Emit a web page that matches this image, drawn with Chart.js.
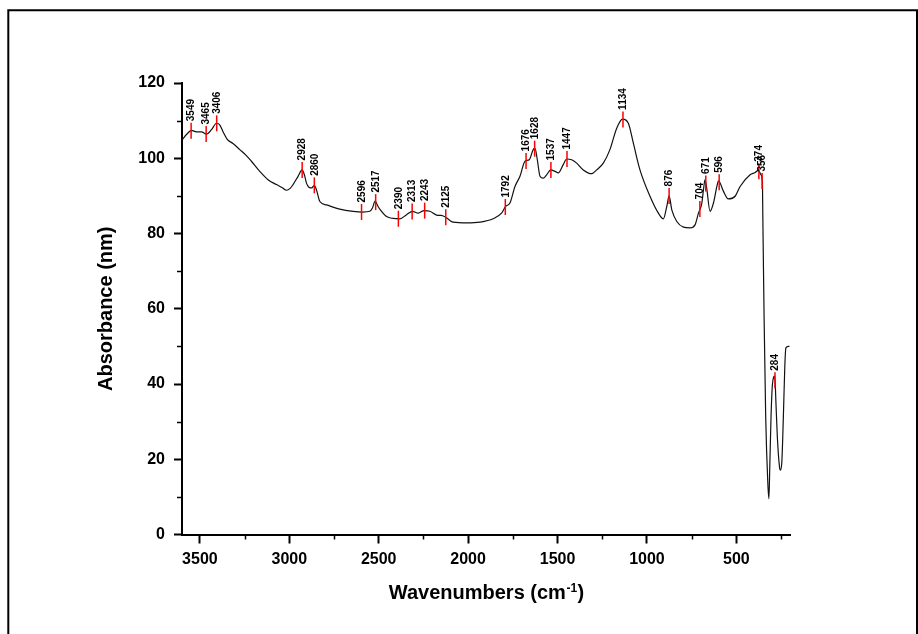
<!DOCTYPE html>
<html><head><meta charset="utf-8">
<script src="https://cdn.jsdelivr.net/npm/chart.js@4.4.0/dist/chart.umd.min.js"></script>
<style>html,body{margin:0;padding:0;background:#fff}</style>
</head><body>
<canvas id="c" width="918" height="634"></canvas>
<script>
const wavenumbers = [3598,3575,3547,3519,3491,3463,3435,3407,3389,3370,3348,3315,3277,3240,3212,3165,3119,3072,3040,3016,2995,2979,2951,2928,2915,2904,2890,2875,2860,2848,2829,2792,2718,2643,2590,2550,2535,2520,2505,2494,2456,2419,2382,2344,2311,2279,2246,2214,2176,2150,2125,2100,2083,2008,1934,1860,1813,1790,1766,1738,1710,1682,1658,1636,1626,1613,1598,1580,1561,1538,1514,1496,1468,1449,1421,1393,1356,1309,1281,1244,1207,1169,1136,1104,1076,1039,983,936,908,889,876,861,833,796,759,731,712,693,684,675,666,647,628,609,600,572,545,507,479,423,395,377,362,354,352,345,336,324,318,313,306,298,285,279,271,259,254,246,237,229,223,209,203];
const absorbance = [105.0,106.3,107.4,107.0,107.0,106.4,107.6,109.3,108.9,107.0,105.1,103.9,102.3,100.7,99.2,96.5,94.3,93.0,92.2,91.5,92.0,93.0,95.2,96.9,95.5,93.4,92.3,92.1,92.8,91.6,88.5,87.6,86.5,85.9,85.7,85.9,86.8,88.6,87.3,86.5,84.5,84.0,83.9,85.0,85.9,85.4,86.1,85.9,84.9,84.8,84.3,83.4,83.0,82.8,83.0,83.9,85.4,87.2,88.1,92.5,95.2,99.2,99.6,102.3,102.6,99.6,95.2,94.7,95.6,96.9,96.5,96.1,98.3,99.8,99.6,98.7,96.9,95.9,96.9,98.7,102.3,108.0,110.4,109.3,104.0,96.9,89.9,85.4,83.9,87.2,90.0,86.3,83.2,81.7,81.5,82.3,85.4,88.1,91.6,94.3,92.1,85.9,88.1,92.5,94.0,91.2,89.2,89.9,92.5,95.6,96.2,96.8,95.6,93.4,84.5,58.0,31.4,13.7,9.5,18.1,31.4,40.0,42.1,35.5,26.1,18.1,17.1,19.0,31.4,44.7,49.6,50.0,50.0];
const xTicks = [3500,3000,2500,2000,1500,1000,500];
const xMinorTicks = [3250,2750,2250,1750,1250,750,250];
const yTicks = [0,20,40,60,80,100,120];
const yMinorTicks = [10,30,50,70,90,110];
const peakLabels = [3549,3465,3406,2928,2860,2596,2517,2390,2313,2243,2125,1792,1676,1628,1537,1447,1134,876,704,671,596,374,356,284];

const FONT = '"Liberation Sans", Arial, Helvetica, sans-serif';

function curveAt(v){
  for (let i=0;i<wavenumbers.length-1;i++){
    const a=wavenumbers[i], b=wavenumbers[i+1];
    if ((v<=a && v>=b)){
      const t=(a===b)?0:(a-v)/(a-b);
      return absorbance[i]+(absorbance[i+1]-absorbance[i])*t;
    }
  }
  return absorbance[absorbance.length-1];
}

const extras = {
  id:'extras',
  afterDraw(chart){
    const ctx=chart.ctx, xs=chart.scales.x, ys=chart.scales.y, ca=chart.chartArea;
    ctx.save();
    ctx.strokeStyle='#000'; ctx.lineWidth=1.5;
    xMinorTicks.forEach(v=>{const p=Math.round(xs.getPixelForValue(v))+0.5;ctx.beginPath();ctx.moveTo(p,ca.bottom);ctx.lineTo(p,ca.bottom+5);ctx.stroke();});
    yMinorTicks.forEach(v=>{const p=Math.round(ys.getPixelForValue(v))+0.5;ctx.beginPath();ctx.moveTo(ca.left,p);ctx.lineTo(ca.left-5,p);ctx.stroke();});
    peakLabels.forEach(v=>{
      const px=xs.getPixelForValue(v), py=ys.getPixelForValue(curveAt(v));
      ctx.strokeStyle='#ff0000'; ctx.lineWidth=1.5;
      ctx.beginPath(); ctx.moveTo(px,py-8); ctx.lineTo(px,py+8); ctx.stroke();
      ctx.save();
      ctx.translate(px,py-9.5); ctx.rotate(-Math.PI/2);
      ctx.fillStyle='#000'; ctx.font='bold 10px '+FONT;
      ctx.textAlign='left'; ctx.textBaseline='middle';
      ctx.fillText(String(v),0,0.5);
      ctx.restore();
    });
    const cx=(ca.left+ca.right)/2, by=ca.bottom+64.5;
    const f1='bold 20px '+FONT, f2='bold 12px '+FONT;
    const t1='Wavenumbers (cm', t2='-1', t3=')';
    ctx.font=f1; const w1=ctx.measureText(t1).width, w3=ctx.measureText(t3).width;
    ctx.font=f2; const w2=ctx.measureText(t2).width;
    let x0=cx-(w1+w2+w3)/2;
    ctx.fillStyle='#000'; ctx.textAlign='left'; ctx.textBaseline='alphabetic';
    ctx.font=f1; ctx.fillText(t1,x0,by);
    ctx.font=f2; ctx.fillText(t2,x0+w1+0.5,by-7.5);
    ctx.font=f1; ctx.fillText(t3,x0+w1+w2+1,by);
    ctx.strokeStyle='#000'; ctx.lineWidth=2;
    ctx.beginPath(); ctx.moveTo(8.3,640); ctx.lineTo(8.3,10.3); ctx.lineTo(917,10.3); ctx.lineTo(917,640); ctx.stroke();
    ctx.restore();
  }
};

new Chart(document.getElementById('c'),{
  type:'line',
  data:{datasets:[{
    data: wavenumbers.map((w,i)=>({x:w,y:absorbance[i]})),
    borderColor:'#111', borderWidth:1.2, pointRadius:0, fill:false,
    cubicInterpolationMode:'monotone'
  }]},
  options:{
    responsive:false, animation:false, devicePixelRatio:1,
    layout:{padding:{left:0,right:128,top:83,bottom:0}},
    plugins:{legend:{display:false},tooltip:{enabled:false}},
    scales:{
      x:{type:'linear', reverse:true, min:200, max:3600,
        afterBuildTicks:s=>{s.ticks=xTicks.map(v=>({value:v}));},
        afterFit:s=>{s.height=634-534.5;},
        grid:{drawOnChartArea:false,drawTicks:true,tickLength:9,tickWidth:2,tickColor:'#000'},
        border:{display:true,color:'#000',width:2},
        ticks:{color:'#000',font:{family:FONT,size:16,weight:'bold'},padding:6,maxRotation:0,autoSkip:false,callback:v=>String(v)}
      },
      y:{type:'linear', min:0, max:120,
        afterBuildTicks:s=>{s.ticks=yTicks.map(v=>({value:v}));},
        afterFit:s=>{s.width=182;},
        grid:{drawOnChartArea:false,drawTicks:true,tickLength:8,tickWidth:2,tickColor:'#000'},
        border:{display:true,color:'#000',width:2},
        ticks:{color:'#000',font:{family:FONT,size:16,weight:'bold'},padding:9,autoSkip:false,callback:v=>String(v)},
        title:{display:true,text:'Absorbance (nm)',color:'#000',font:{family:FONT,size:20,weight:'bold'},padding:{top:94.6,bottom:0}}
      }
    }
  },
  plugins:[extras]
});
</script>
</body></html>
